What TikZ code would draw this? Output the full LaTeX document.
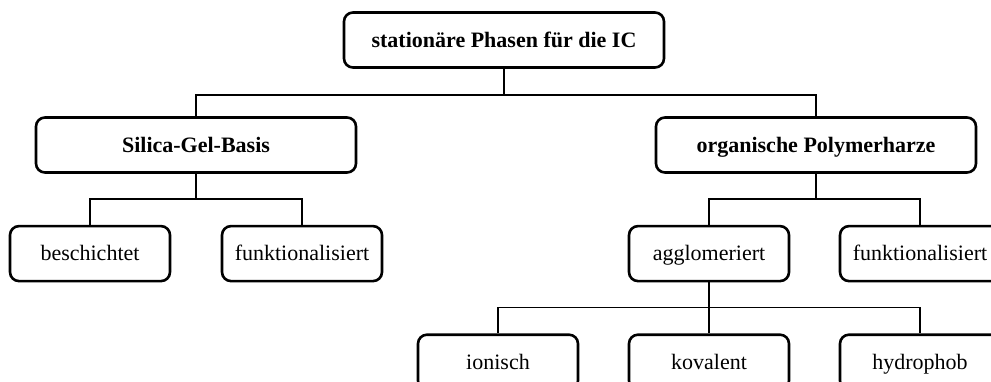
\documentclass[tikz,border=0pt]{standalone}
\usepackage{fontspec}
\setmainfont{Liberation Serif}
\usetikzlibrary{positioning}

\tikzset{
  box/.style={draw, line width=2.6pt, rounded corners=9pt, minimum height=55pt,
    text height=17pt, text depth=3pt, font=\fontsize{22}{26}\selectfont},
  mainbox/.style={box, minimum width=320pt, font=\bfseries\fontsize{22}{26}\selectfont},
  leafbox/.style={box, minimum width=160pt},
  link/.style={line width=1.8pt},
}

\begin{document}
\begin{tikzpicture}[x=1pt,y=1pt]
  \useasboundingbox (0,0) rectangle (991,-381);
  \node[mainbox] (root) at (504,-40) {stationäre Phasen für die IC};
  \node[mainbox] (silica) at (196,-145) {Silica-Gel-Basis};
  \node[mainbox] (organic) at (816,-145) {organische Polymerharze};
  \node[leafbox, below=51pt of silica, xshift=-106pt] (coated) {beschichtet};
  \node[leafbox, below=51pt of silica, xshift=106pt] (funcA) {funktionalisiert};
  \node[leafbox, below=51pt of organic, xshift=-107pt] (agglo) {agglomeriert};
  \node[leafbox, below=51pt of organic, xshift=104pt] (funcB) {funktionalisiert};
  \node[leafbox, below=51pt of agglo, xshift=-211pt] (ionic) {ionisch};
  \node[leafbox, below=51pt of agglo] (covalent) {kovalent};
  \node[leafbox, below=51pt of agglo, xshift=211pt] (hydro) {hydrophob};
  \draw[link] (root.south) -- ++(0,-26) -| (silica.north);
  \draw[link] (root.south) -- ++(0,-26) -| (organic.north);
  \draw[link] (silica.south) -- ++(0,-25) -| (coated.north);
  \draw[link] (silica.south) -- ++(0,-25) -| (funcA.north);
  \draw[link] (organic.south) -- ++(0,-25) -| (agglo.north);
  \draw[link] (organic.south) -- ++(0,-25) -| (funcB.north);
  \draw[link] (agglo.south) -- ++(0,-25) -| (ionic.north);
  \draw[link] (agglo.south) -- (covalent.north);
  \draw[link] (agglo.south) -- ++(0,-25) -| (hydro.north);
\end{tikzpicture}
\end{document}
